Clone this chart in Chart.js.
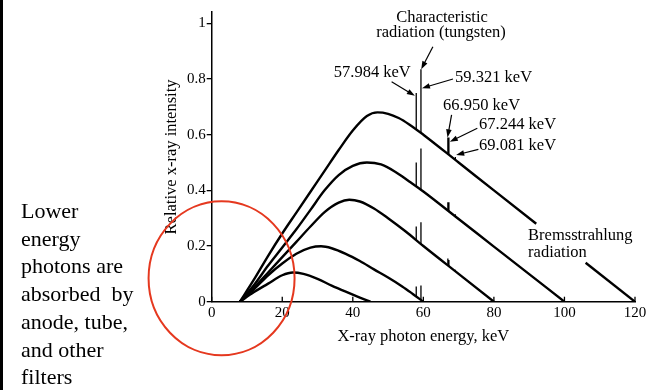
<!DOCTYPE html>
<html>
<head>
<meta charset="utf-8">
<script src="https://cdn.jsdelivr.net/npm/chart.js@4.4.1/dist/chart.umd.min.js"></script>
<style>
  html, body { margin: 0; padding: 0; background: #fff; }
  #wrap { position: relative; width: 652px; height: 390px; overflow: hidden; }
  #bar { position: absolute; left: 0; top: 0; width: 3px; height: 390px; background: #000; }
  canvas { position: absolute; left: 0; top: 0; }
</style>
</head>
<body>
<div id="wrap">
  <div id="bar"></div>
  <canvas id="spectrum" width="652" height="390"></canvas>
</div>
<script>
// bremsstrahlung curves, one per tube voltage (kVp)
const energy120 = [8, 12, 16, 20, 24, 28, 32, 36, 40, 44, 47, 50, 53, 56, 60, 70, 80, 92, 106, 120];
const value120 = [0, 0.08, 0.165, 0.245, 0.32, 0.395, 0.47, 0.545, 0.615, 0.667, 0.68, 0.675, 0.66, 0.637, 0.6, 0.5, 0.4, 0.28, 0.14, 0];
const energy100 = [8, 12, 16, 20, 24, 28, 32, 36, 40, 44, 48, 52, 56, 60, 70, 80, 90, 100];
const value100 = [0, 0.06, 0.13, 0.195, 0.26, 0.33, 0.4, 0.455, 0.488, 0.5, 0.493, 0.467, 0.432, 0.396, 0.297, 0.198, 0.099, 0];
const energy80 = [8, 12, 16, 20, 24, 28, 32, 36, 39, 42, 46, 50, 55, 60, 70, 80];
const value80 = [0, 0.05, 0.105, 0.16, 0.215, 0.27, 0.322, 0.356, 0.366, 0.36, 0.335, 0.3, 0.252, 0.2, 0.1, 0];
const energy60 = [8, 12, 16, 20, 24, 28, 31, 34, 38, 42, 46, 50, 54, 57, 60];
const value60 = [0, 0.045, 0.095, 0.137, 0.172, 0.194, 0.199, 0.192, 0.172, 0.146, 0.116, 0.087, 0.055, 0.028, 0];
const energy45 = [8, 12, 16, 20, 23, 26, 30, 34, 38, 42, 45];
const value45 = [0, 0.035, 0.065, 0.095, 0.105, 0.1, 0.082, 0.058, 0.036, 0.015, 0];

// the 120 kVp curve is interrupted where the label sits
const labelGap = [92, 106];

// characteristic tungsten lines (keV) and spike base/top per curve
const lineEnergies = [57.984, 59.321, 66.950, 67.244, 69.081];
const spikeBase120 = [0.62, 0.607, 0.53, 0.528, 0.509];
const spikeTop120 = [0.75, 0.835, 0.59, 0.59, 0.52];
const spikeBase100 = [0.413, 0.402, 0.327, 0.324, 0.306];
const spikeTop100 = [0.5, 0.55, 0.357, 0.357, 0.314];
const spikeBase80 = [0.221, 0.207, 0.13, 0.128, 0.109];
const spikeTop80 = [0.27, 0.285, 0.155, 0.15, 0.115];
const spikeBase60 = [0.019, 0.006];
const spikeTop60 = [0.055, 0.058];

const xTicks = [0, 20, 40, 60, 80, 100, 120];
const yTicks = [0, 0.2, 0.4, 0.6, 0.8, 1];

const sideNote = ["Lower", "energy", "photons are", "absorbed  by", "anode, tube,", "and other", "filters"];

const serif = '"Liberation Serif", "Times New Roman", serif';

function curve(xs, ys) {
  return xs.map((x, i) => ({ x: x, y: ys[i] }));
}

function spikes(bases, tops) {
  const pts = [];
  bases.forEach((b, i) => {
    pts.push({ x: lineEnergies[i], y: b });
    pts.push({ x: lineEnergies[i], y: tops[i] });
    pts.push({ x: lineEnergies[i], y: null });
  });
  return pts;
}

const curveStyle = { borderColor: "#000", borderWidth: 2.4, pointRadius: 0, fill: false, cubicInterpolationMode: "monotone" };
const spikeStyle = { borderColor: "#000", borderWidth: 1.3, pointRadius: 0, fill: false, tension: 0 };

// text and arrows, placed in data units
const labels = [
  { text: "Characteristic", x: 65.3, y: 1.006, align: "center" },
  { text: "radiation (tungsten)", x: 65.0, y: 0.95, align: "center" },
  { text: "57.984 keV", x: 34.6, y: 0.807, align: "left" },
  { text: "59.321 keV", x: 69.0, y: 0.789, align: "left" },
  { text: "66.950 keV", x: 65.6, y: 0.689, align: "left" },
  { text: "67.244 keV", x: 75.8, y: 0.619, align: "left" },
  { text: "69.081 keV", x: 75.8, y: 0.545, align: "left" },
  { text: "Bremsstrahlung", x: 89.7, y: 0.222, align: "left" },
  { text: "radiation", x: 89.7, y: 0.162, align: "left" },
];
const arrows = [
  { from: [62.7, 0.916], to: [59.4, 0.835] },
  { from: [51.0, 0.79], to: [57.6, 0.74] },
  { from: [68.4, 0.8], to: [59.6, 0.767] },
  { from: [68.0, 0.671], to: [66.85, 0.59] },
  { from: [75.3, 0.623], to: [67.5, 0.575] },
  { from: [75.6, 0.547], to: [69.3, 0.527] },
];
const circleCenter = [2.8, 0.084];

const notesPlugin = {
  id: "notes",
  afterDraw(chart) {
    const { ctx, chartArea } = chart;
    const xs = chart.scales.x;
    const ys = chart.scales.y;
    ctx.save();

    // x ticks point into the plot
    ctx.strokeStyle = "#000";
    ctx.lineWidth = 1.3;
    xTicks.forEach((t) => {
      const px = xs.getPixelForValue(t);
      ctx.beginPath();
      ctx.moveTo(px, chartArea.bottom);
      ctx.lineTo(px, chartArea.bottom - 5);
      ctx.stroke();
    });

    ctx.fillStyle = "#000";
    ctx.font = "16.5px " + serif;
    ctx.textBaseline = "alphabetic";
    labels.forEach((l) => {
      ctx.textAlign = l.align;
      ctx.fillText(l.text, xs.getPixelForValue(l.x), ys.getPixelForValue(l.y));
    });

    ctx.lineWidth = 1.2;
    arrows.forEach((a) => {
      const x0 = xs.getPixelForValue(a.from[0]);
      const y0 = ys.getPixelForValue(a.from[1]);
      const x1 = xs.getPixelForValue(a.to[0]);
      const y1 = ys.getPixelForValue(a.to[1]);
      const ang = Math.atan2(y1 - y0, x1 - x0);
      ctx.beginPath();
      ctx.moveTo(x0, y0);
      ctx.lineTo(x1 - 5 * Math.cos(ang), y1 - 5 * Math.sin(ang));
      ctx.stroke();
      ctx.beginPath();
      ctx.moveTo(x1, y1);
      ctx.lineTo(x1 - 8 * Math.cos(ang) + 2.8 * Math.sin(ang), y1 - 8 * Math.sin(ang) - 2.8 * Math.cos(ang));
      ctx.lineTo(x1 - 8 * Math.cos(ang) - 2.8 * Math.sin(ang), y1 - 8 * Math.sin(ang) + 2.8 * Math.cos(ang));
      ctx.closePath();
      ctx.fill();
    });

    // side note on the left of the figure
    ctx.font = "22px " + serif;
    ctx.textAlign = "left";
    sideNote.forEach((line, i) => {
      ctx.fillText(line, 21, 218 + i * 27.7);
    });

    // red circle over the low-energy cut-off
    ctx.strokeStyle = "#e5381f";
    ctx.lineWidth = 2;
    ctx.beginPath();
    ctx.ellipse(xs.getPixelForValue(circleCenter[0]), ys.getPixelForValue(circleCenter[1]), 73, 77, 0, 0, 2 * Math.PI);
    ctx.stroke();

    ctx.restore();
  },
};

new Chart(document.getElementById("spectrum"), {
  type: "line",
  data: {
    datasets: [
      {
        ...curveStyle,
        data: curve(energy120, value120),
        segment: {
          borderColor: (c) => (c.p0.parsed.x === labelGap[0] && c.p1.parsed.x === labelGap[1] ? "rgba(0,0,0,0)" : "#000"),
        },
      },
      { ...curveStyle, data: curve(energy100, value100) },
      { ...curveStyle, data: curve(energy80, value80) },
      { ...curveStyle, data: curve(energy60, value60) },
      { ...curveStyle, data: curve(energy45, value45) },
      { ...spikeStyle, data: spikes(spikeBase120, spikeTop120) },
      { ...spikeStyle, data: spikes(spikeBase100, spikeTop100) },
      { ...spikeStyle, data: spikes(spikeBase80, spikeTop80) },
      { ...spikeStyle, data: spikes(spikeBase60, spikeTop60) },
    ],
  },
  plugins: [notesPlugin],
  options: {
    responsive: false,
    animation: false,
    events: [],
    layout: { padding: { left: 162, right: 17, top: 12.2, bottom: 43.3 } },
    plugins: { legend: { display: false }, tooltip: { enabled: false } },
    scales: {
      x: {
        type: "linear",
        min: 0,
        max: 120,
        afterFit: (s) => { s.height = 45; },
        afterBuildTicks: (s) => { s.ticks = xTicks.map((v) => ({ value: v })); },
        grid: { drawOnChartArea: false, drawTicks: false },
        border: { display: true, color: "#000", width: 1.5 },
        ticks: { color: "#000", padding: 2, font: { family: serif, size: 15 } },
        title: { display: true, text: "X-ray photon energy, keV", color: "#000", padding: 0, font: { family: serif, size: 16.5 } },
      },
      y: {
        min: 0,
        max: 1.04,
        afterFit: (s) => { s.width = 49.7; },
        afterBuildTicks: (s) => { s.ticks = yTicks.map((v) => ({ value: v })); },
        grid: { drawOnChartArea: false, tickLength: 5, color: "#000", lineWidth: 1.3 },
        border: { display: true, color: "#000", width: 1.5 },
        ticks: {
          color: "#000",
          padding: 1,
          font: { family: serif, size: 15 },
          callback: (v) => String(Number(v.toFixed(1))),
        },
        title: { display: true, text: "Relative x-ray intensity", color: "#000", padding: 0, font: { family: serif, size: 16.5 } },
      },
    },
  },
});
</script>
</body>
</html>
